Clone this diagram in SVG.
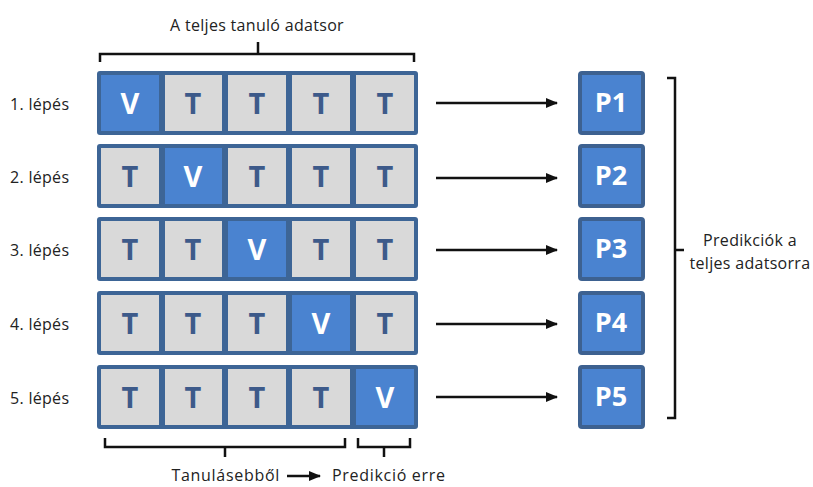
<svg xmlns="http://www.w3.org/2000/svg" width="813" height="487" viewBox="0 0 813 487">
<defs>
<style>
.frame{fill:#3d6596;}
.t{fill:#d9d9d9;stroke:#3d6596;stroke-width:2;}
.v{fill:#4a83d0;stroke:#3d6596;stroke-width:2;}
.lt{font-family:"Open Sans","Liberation Sans",sans-serif;font-weight:bold;font-size:29px;fill:#3d5a8a;text-anchor:middle;}
.lv{font-family:"Open Sans","Liberation Sans",sans-serif;font-weight:bold;font-size:29px;fill:#ffffff;text-anchor:middle;}
.lbl{font-family:"Open Sans","Liberation Sans",sans-serif;font-size:16px;fill:#222;letter-spacing:0.3px;}
.p{fill:#4a83d0;stroke:#3d6190;stroke-width:4;}
.pl{font-family:"Open Sans","Liberation Sans",sans-serif;font-weight:bold;font-size:27px;fill:#ffffff;text-anchor:middle;}
.br{fill:none;stroke:#111;stroke-width:2.5;}
.conn{stroke:#111;stroke-width:2.5;fill:none;}
</style>
<marker id="ah" markerWidth="12" markerHeight="10" refX="11" refY="5" orient="auto" markerUnits="userSpaceOnUse">
<path d="M0,0 L12,5 L0,10 Z" fill="#111"/>
</marker>
</defs>
<rect width="813" height="487" fill="#ffffff"/>

<text class="lbl" x="257" y="31" text-anchor="middle">A teljes tanuló adatsor</text>
<path class="br" d="M100,62 V54 H414 V62 M258,54 V42"/>

<g id="row1">
<rect class="frame" x="97" y="71" width="321" height="64" rx="3"/>
<rect class="v" x="100" y="74" width="60" height="58"/>
<rect class="t" x="164" y="74" width="59" height="58"/>
<rect class="t" x="227" y="74" width="60" height="58"/>
<rect class="t" x="291" y="74" width="60" height="58"/>
<rect class="t" x="355" y="74" width="60" height="58"/>
<text class="lv" x="130" y="114">V</text>
<text class="lt" x="193" y="114">T</text>
<text class="lt" x="257" y="114">T</text>
<text class="lt" x="321" y="114">T</text>
<text class="lt" x="385" y="114">T</text>
<text class="lbl" x="10" y="110">1. lépés</text>
</g>
<g id="row2">
<rect class="frame" x="97" y="144" width="321" height="64" rx="3"/>
<rect class="t" x="100" y="147" width="60" height="58"/>
<rect class="v" x="164" y="147" width="59" height="58"/>
<rect class="t" x="227" y="147" width="60" height="58"/>
<rect class="t" x="291" y="147" width="60" height="58"/>
<rect class="t" x="355" y="147" width="60" height="58"/>
<text class="lt" x="130" y="187">T</text>
<text class="lv" x="193" y="187">V</text>
<text class="lt" x="257" y="187">T</text>
<text class="lt" x="321" y="187">T</text>
<text class="lt" x="385" y="187">T</text>
<text class="lbl" x="10" y="183">2. lépés</text>
</g>
<g id="row3">
<rect class="frame" x="97" y="217" width="321" height="64" rx="3"/>
<rect class="t" x="100" y="220" width="60" height="58"/>
<rect class="t" x="164" y="220" width="59" height="58"/>
<rect class="v" x="227" y="220" width="60" height="58"/>
<rect class="t" x="291" y="220" width="60" height="58"/>
<rect class="t" x="355" y="220" width="60" height="58"/>
<text class="lt" x="130" y="260">T</text>
<text class="lt" x="193" y="260">T</text>
<text class="lv" x="257" y="260">V</text>
<text class="lt" x="321" y="260">T</text>
<text class="lt" x="385" y="260">T</text>
<text class="lbl" x="10" y="256">3. lépés</text>
</g>
<g id="row4">
<rect class="frame" x="97" y="291" width="321" height="64" rx="3"/>
<rect class="t" x="100" y="294" width="60" height="58"/>
<rect class="t" x="164" y="294" width="59" height="58"/>
<rect class="t" x="227" y="294" width="60" height="58"/>
<rect class="v" x="291" y="294" width="60" height="58"/>
<rect class="t" x="355" y="294" width="60" height="58"/>
<text class="lt" x="130" y="334">T</text>
<text class="lt" x="193" y="334">T</text>
<text class="lt" x="257" y="334">T</text>
<text class="lv" x="321" y="334">V</text>
<text class="lt" x="385" y="334">T</text>
<text class="lbl" x="10" y="330">4. lépés</text>
</g>
<g id="row5">
<rect class="frame" x="97" y="365" width="321" height="64" rx="3"/>
<rect class="t" x="100" y="368" width="60" height="58"/>
<rect class="t" x="164" y="368" width="59" height="58"/>
<rect class="t" x="227" y="368" width="60" height="58"/>
<rect class="t" x="291" y="368" width="60" height="58"/>
<rect class="v" x="355" y="368" width="60" height="58"/>
<text class="lt" x="130" y="408">T</text>
<text class="lt" x="193" y="408">T</text>
<text class="lt" x="257" y="408">T</text>
<text class="lt" x="321" y="408">T</text>
<text class="lv" x="385" y="408">V</text>
<text class="lbl" x="10" y="404">5. lépés</text>
</g>

<g id="P1"><rect class="p" x="580" y="73" width="63" height="60" rx="2"/><text class="pl" x="611" y="112">P1</text></g>
<g id="P2"><rect class="p" x="580" y="146" width="63" height="60" rx="2"/><text class="pl" x="611" y="185">P2</text></g>
<g id="P3"><rect class="p" x="580" y="219" width="63" height="60" rx="2"/><text class="pl" x="611" y="258">P3</text></g>
<g id="P4"><rect class="p" x="580" y="293" width="63" height="60" rx="2"/><text class="pl" x="611" y="332">P4</text></g>
<g id="P5"><rect class="p" x="580" y="367" width="63" height="60" rx="2"/><text class="pl" x="611" y="406">P5</text></g>

<g id="connectors">
<line class="conn" x1="436" y1="103" x2="557" y2="103" marker-end="url(#ah)"/>
<line class="conn" x1="436" y1="178" x2="557" y2="178" marker-end="url(#ah)"/>
<line class="conn" x1="436" y1="250" x2="557" y2="250" marker-end="url(#ah)"/>
<line class="conn" x1="436" y1="324" x2="557" y2="324" marker-end="url(#ah)"/>
<line class="conn" x1="436" y1="397" x2="557" y2="397" marker-end="url(#ah)"/>
<line class="conn" x1="287" y1="476" x2="320" y2="476" marker-end="url(#ah)"/>
</g>

<path class="br" d="M667,78 H675 V418 H667 M675,250 H684"/>
<text class="lbl" x="750" y="246" text-anchor="middle">Predikciók a</text>
<text class="lbl" x="750" y="269" text-anchor="middle">teljes adatsorra</text>

<path class="br" d="M105,438 V447 H345 V438 M225,447 V457"/>
<path class="br" d="M358,438 V447 H410 V438 M384,447 V457"/>
<text class="lbl" x="280" y="481" text-anchor="end" style="letter-spacing:0.7px">Tanulásebből</text>
<text class="lbl" x="332" y="481" style="letter-spacing:0.7px">Predikció erre</text>
</svg>
